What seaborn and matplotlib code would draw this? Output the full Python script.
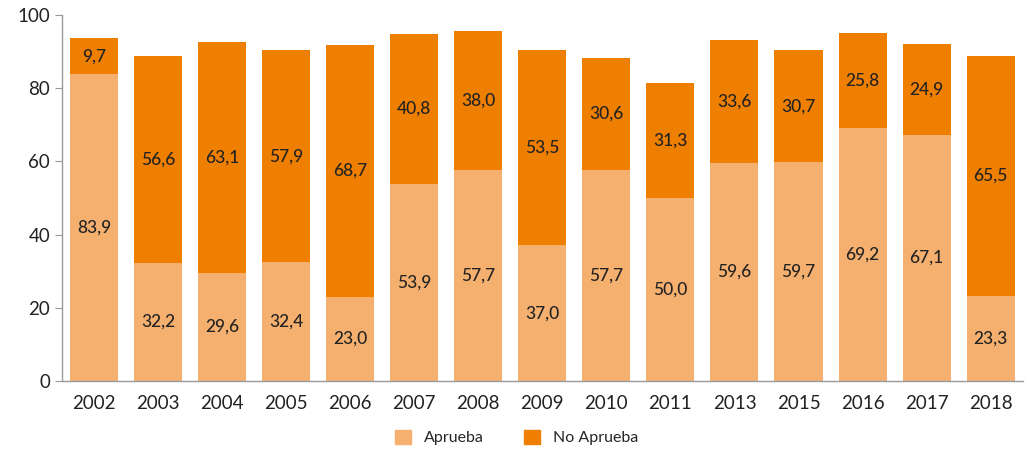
import pandas as pd
import seaborn as sns
import matplotlib.pyplot as plt
from matplotlib.patches import Patch

years = ['2002', '2003', '2004', '2005', '2006', '2007', '2008', '2009',
         '2010', '2011', '2013', '2015', '2016', '2017', '2018']
aprueba = [83.9, 32.2, 29.6, 32.4, 23.0, 53.9, 57.7, 37.0,
           57.7, 50.0, 59.6, 59.7, 69.2, 67.1, 23.3]
no_aprueba = [9.7, 56.6, 63.1, 57.9, 68.7, 40.8, 38.0, 53.5,
              30.6, 31.3, 33.6, 30.7, 25.8, 24.9, 65.5]

light = '#F5B06F'
dark = '#EE7F00'
txt = '#222222'

df = pd.DataFrame({'year': years, 'Aprueba': aprueba, 'No Aprueba': no_aprueba})
df['total'] = df['Aprueba'] + df['No Aprueba']

sns.set_style('white')
plt.rcParams['font.family'] = ['Lato', 'DejaVu Sans']

fig, ax = plt.subplots(figsize=(10.33, 4.55), dpi=100)

sns.barplot(data=df, x='year', y='total', color=dark, saturation=1,
            width=0.75, linewidth=0, ax=ax)
sns.barplot(data=df, x='year', y='Aprueba', color=light, saturation=1,
            width=0.75, linewidth=0, ax=ax)

for i, row in df.iterrows():
    ax.text(i, row['Aprueba'] / 2, f"{row['Aprueba']:.1f}".replace('.', ','),
            ha='center', va='center', fontsize=12.5, color=txt, fontweight='medium')
    ax.text(i, row['Aprueba'] + row['No Aprueba'] / 2,
            f"{row['No Aprueba']:.1f}".replace('.', ','),
            ha='center', va='center', fontsize=12.5, color=txt, fontweight='medium')

ax.set_xlim(-0.5, len(years) - 0.5)
ax.set_ylim(0, 100)
ax.set_yticks(range(0, 101, 20))
ax.set_xlabel('')
ax.set_ylabel('')

ax.set_xticks([i + 0.5 for i in range(-1, len(years))], minor=True)
ax.tick_params(axis='x', which='major', length=0, labelsize=13.5, pad=10, colors=txt)
ax.tick_params(axis='x', which='minor', length=5, color='#999999', direction='out')
ax.tick_params(axis='y', length=5, color='#999999', labelsize=13.5, labelcolor=txt, left=True)

for s in ['top', 'right']:
    ax.spines[s].set_visible(False)
for s in ['left', 'bottom']:
    ax.spines[s].set_color('#999999')
    ax.spines[s].set_linewidth(1)

handles = [Patch(color=light, label='Aprueba'), Patch(color=dark, label='No Aprueba')]
fig.legend(handles=handles, loc='lower center', ncol=2, frameon=False,
           fontsize=11.5, handlelength=1.0, handleheight=1.0, columnspacing=2.5,
           bbox_to_anchor=(0.5, -0.01))

plt.subplots_adjust(left=0.06, right=0.99, top=0.967, bottom=0.163)
plt.savefig('out.png', dpi=100)
